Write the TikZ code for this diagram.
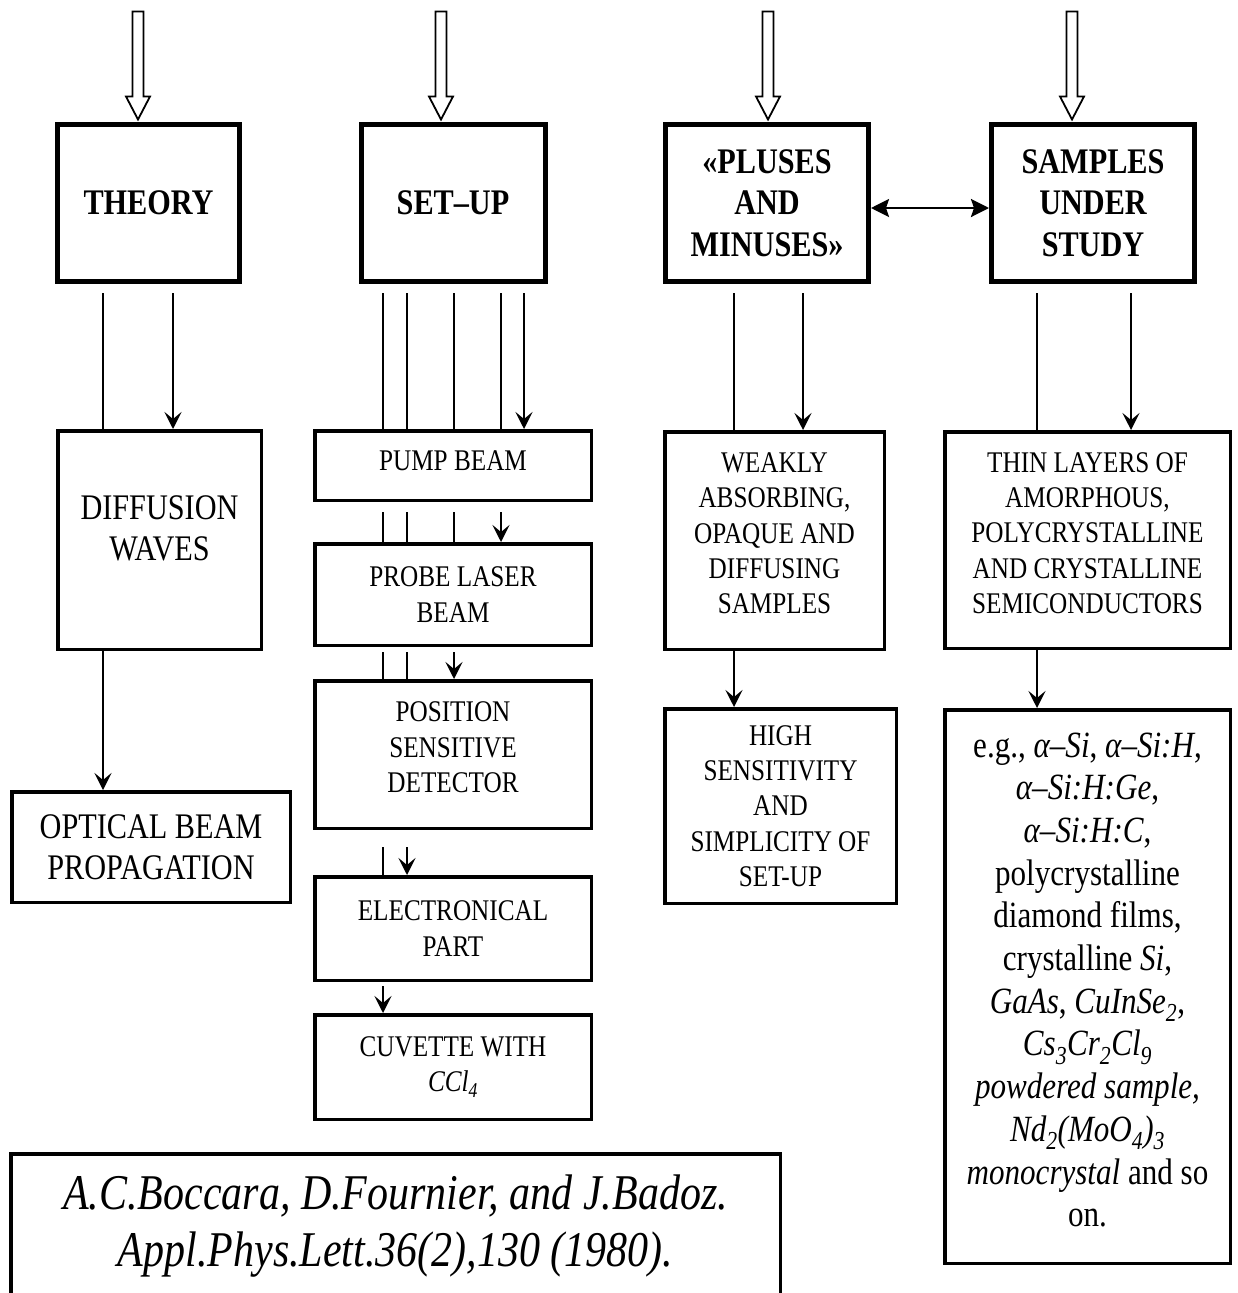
\documentclass[tikz,border=0pt]{standalone}
\usepackage{fontspec}
\setmainfont{Liberation Serif}[FakeStretch=0.84]
\usetikzlibrary{arrows.meta}

\begin{document}
\begin{tikzpicture}[
  x=1pt, y=-1pt,
  head/.style = {draw, line width=5pt, align=center, inner sep=0pt,
                 minimum width=182pt, minimum height=157pt,
                 font=\fontsize{36}{41.5}\selectfont\bfseries},
  box/.style  = {draw, line width=3.5pt, align=center, inner sep=0pt},
  big/.style  = {box, font=\fontsize{36}{41}\selectfont},
  mid/.style  = {box, font=\fontsize{30}{35.3}\selectfont},
  part/.style = {mid, minimum width=276.5pt},
  beam/.style = {line width=2.6pt},
  arr/.style  = {beam, -{Stealth[length=17pt, width=17pt, inset=7pt]}},
  dbl/.style  = {beam, {Stealth[length=18pt, width=18pt, inset=3pt]}-{Stealth[length=18pt, width=18pt, inset=3pt]}},
  inlet/.pic  = {\draw[line width=1.8pt, fill=white]
                 (0,0) -- (-12,-23) -- (-5.5,-23) -- (-5.5,-108)
                 -- (5.5,-108) -- (5.5,-23) -- (12,-23) -- cycle;}
]
\useasboundingbox (0,0) rectangle (1238,1293);

% four main blocks
\node[head] (theory) at (148.5,203) {THEORY};
\node[head, minimum width=184pt] (setup) at (453,203) {SET–UP};
\node[head, minimum width=203pt] (pluses) at (767,203) {«PLUSES\\AND\\MINUSES»};
\node[head, minimum width=203pt] (samples) at (1093,203) {SAMPLES\\UNDER\\STUDY};

% theory column
\node[big, minimum width=203.5pt, minimum height=218.5pt] (diffusion) at (159.5,540)
     {DIFFUSION\\WAVES\\[-17pt]\mbox{}};
\node[big, minimum width=278.5pt, minimum height=110.5pt] (optical) at (151,847)
     {OPTICAL BEAM\\PROPAGATION};

% set-up column
\node[part, minimum height=69.5pt]  (pump)    at (453,465.5) {PUMP BEAM\\[-25pt]\mbox{}};
\node[part, minimum height=101.5pt] (probe)   at (453,594.5) {PROBE LASER\\BEAM};
\node[part, minimum height=147.5pt] (psd)     at (453,754.5) {POSITION\\SENSITIVE\\DETECTOR\\[-21pt]\mbox{}};
\node[part, minimum height=103.5pt] (elec)    at (453,928.5) {ELECTRONICAL\\PART};
\node[part, minimum height=104.5pt] (cuvette) at (453,1067)  {CUVETTE WITH\\\textit{CCl\textsubscript{4}}};

% pluses and minuses column
\node[mid, minimum width=219.5pt, minimum height=217.5pt] (weakly) at (774.5,540.5)
     {WEAKLY\\ABSORBING,\\OPAQUE AND\\DIFFUSING\\SAMPLES\\[-21pt]\mbox{}};
\node[mid, minimum width=231.5pt, minimum height=194.5pt] (merits) at (780.5,806)
     {HIGH\\SENSITIVITY\\AND\\SIMPLICITY OF\\SET-UP};

% samples column
\node[mid, minimum width=285.5pt, minimum height=216.5pt] (layers) at (1087.5,540)
     {THIN LAYERS OF\\AMORPHOUS,\\POLYCRYSTALLINE\\AND CRYSTALLINE\\SEMICONDUCTORS\\[-21pt]\mbox{}};
\node[box, font=\fontsize{37}{42.7}\selectfont, minimum width=285.5pt,
      minimum height=553.5pt] (examples) at (1087.5,986.5)
     {e.g., \textit{α–Si}, \textit{α–Si:H},\\
      \textit{α–Si:H:Ge},\\
      \textit{α–Si:H:C},\\
      polycrystalline\\
      diamond films,\\
      crystalline \textit{Si},\\
      \textit{GaAs}, \textit{CuInSe\textsubscript{2}},\\
      \textit{Cs\textsubscript{3}Cr\textsubscript{2}Cl\textsubscript{9}}\\
      \textit{powdered sample,}\\
      \textit{Nd\textsubscript{2}(MoO\textsubscript{4})\textsubscript{3}}\\
      \textit{monocrystal} and so\\
      on.\\[-29pt]\mbox{}};

% reference
\node[box, font=\fontsize{50}{57}\selectfont\itshape, minimum width=769.5pt,
      minimum height=145pt] (ref) at (395.5,1226.25)
     {A.C.Boccara, D.Fournier, and J.Badoz.\\Appl.Phys.Lett.36(2),130 (1980).};

% inputs on top
\pic at ([xshift=-10.5pt, yshift=2.5pt]theory.north) {inlet};
\pic at ([xshift=-12pt, yshift=2.5pt]setup.north) {inlet};
\pic at ([xshift=1pt, yshift=2.5pt]pluses.north) {inlet};
\pic at ([xshift=-21pt, yshift=2.5pt]samples.north) {inlet};

\draw[dbl] ([yshift=-5pt]pluses.east) -- ([yshift=-5pt]samples.west);

% theory links
\draw[beam] (theory.south -| 103,0) ++(0,9) -- (diffusion.north -| 103,0);
\draw[arr]  (theory.south -| 173,0) ++(0,9) -- (diffusion.north -| 173,0);
\draw[arr]  (diffusion.south -| 103,0) -- (optical.north -| 103,0);

% beams through the set-up
\foreach \bx in {383,407,454,501}
  \draw[beam] (setup.south -| \bx,0) ++(0,9) -- (pump.north -| \bx,0);
\draw[arr] (setup.south -| 524,0) ++(0,9) -- (pump.north -| 524,0);
\foreach \bx in {383,407,454}
  \draw[beam] (pump.south -| \bx,0) ++(0,10) -- (probe.north -| \bx,0);
\draw[arr] (pump.south -| 501,0) ++(0,10) -- (probe.north -| 501,0);
\foreach \bx in {383,407}
  \draw[beam] (probe.south -| \bx,0) ++(0,5) -- (psd.north -| \bx,0);
\draw[arr] (probe.south -| 454,0) ++(0,5) -- (psd.north -| 454,0);
\draw[beam] (psd.south -| 383,0) ++(0,17) -- (elec.north -| 383,0);
\draw[arr]  (psd.south -| 407,0) ++(0,17) -- (elec.north -| 407,0);
\draw[arr]  (elec.south -| 383,0) ++(0,4) -- (cuvette.north -| 383,0);

% pluses and samples links
\draw[beam] (pluses.south -| 734,0) ++(0,9) -- (weakly.north -| 734,0);
\draw[arr]  (pluses.south -| 803,0) ++(0,9) -- (weakly.north -| 803,0);
\draw[arr]  (weakly.south -| 734,0) -- (merits.north -| 734,0);
\draw[beam] (samples.south -| 1037,0) ++(0,9) -- (layers.north -| 1037,0);
\draw[arr]  (samples.south -| 1131,0) ++(0,9) -- (layers.north -| 1131,0);
\draw[arr]  (layers.south -| 1037,0) -- (examples.north -| 1037,0);

\end{tikzpicture}
\end{document}
